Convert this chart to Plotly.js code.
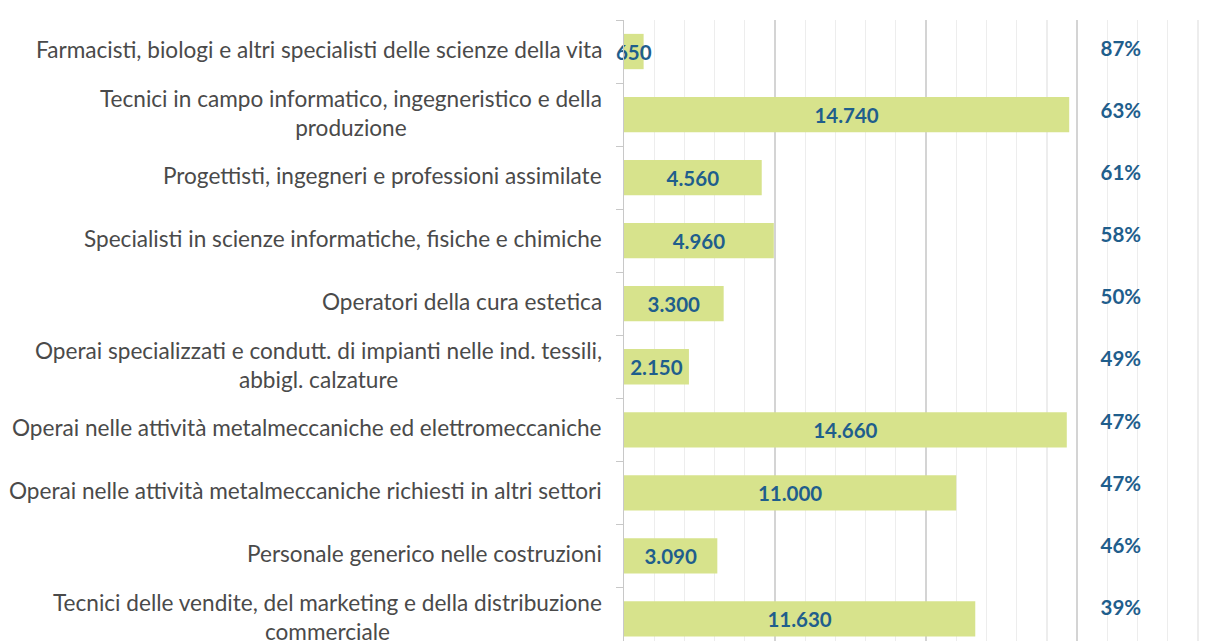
<!DOCTYPE html>
<html>
<head>
<meta charset="utf-8">
<script src="https://cdn.plot.ly/plotly-3.0.1.min.js"></script>
<style>html,body{margin:0;padding:0;background:#fff;}#chart{width:1216px;height:641px;}</style>
</head>
<body>
<div id="chart"></div>
<script>
const categories = [
  "Farmacisti, biologi e altri specialisti delle scienze della vita",
  "Tecnici in campo informatico, ingegneristico e della<br>produzione",
  "Progettisti, ingegneri e professioni assimilate",
  "Specialisti in scienze informatiche, fisiche e chimiche",
  "Operatori della cura estetica",
  "Operai specializzati e condutt. di impianti nelle ind. tessili,<br>abbigl. calzature",
  "Operai nelle attività metalmeccaniche ed elettromeccaniche",
  "Operai nelle attività metalmeccaniche richiesti in altri settori",
  "Personale generico nelle costruzioni",
  "Tecnici delle vendite, del marketing e della distribuzione<br>commerciale"
];
const entrate = [650, 14740, 4560, 4960, 3300, 2150, 14660, 11000, 3090, 11630];
const quota = [87, 63, 61, 58, 50, 49, 47, 47, 46, 39];

const blue = "#1F5E8C";
const font = "Lato, 'Open Sans', sans-serif";

const bars = {
  type: "bar",
  orientation: "h",
  y: categories,
  x: entrate,
  width: 0.56,
  marker: {color: "#D7E38C"},
  texttemplate: "%{x:,.0f}",
  textposition: "inside",
  insidetextanchor: "middle",
  textangle: 0,
  constraintext: "none",
  textfont: {family: font, size: 20.5, color: blue, weight: "bold"},
  hoverinfo: "none",
  cliponaxis: false
};

const pctLabels = {
  type: "scatter",
  mode: "text",
  y: categories,
  x: quota.map(() => 16450),
  yaxis: "y2",
  text: quota.map(v => v + "%"),
  textposition: "middle center",
  textfont: {family: font, size: 20.5, color: blue, weight: "bold"},
  hoverinfo: "none",
  cliponaxis: false
};

const annotations = categories.map(c => ({
  xref: "paper", yref: "y", x: 0, y: c,
  xanchor: "right", yanchor: "middle", xshift: -20, yshift: 2,
  text: c, showarrow: false, align: "center",
  font: {family: font, size: 22.6, color: "#4A4A4A"}
}));

const layout = {
  width: 1216, height: 641,
  margin: {l: 624, r: 0, t: 20, b: 0},
  paper_bgcolor: "#fff", plot_bgcolor: "#fff",
  showlegend: false,
  separators: ",.",
  xaxis: {
    range: [0, 19600], dtick: 5000, showticklabels: false,
    showgrid: true, gridcolor: "#D4D4D4", gridwidth: 1.3, zeroline: false,
    minor: {dtick: 1000, showgrid: true, gridcolor: "#EDEDED", gridwidth: 1.3}
  },
  yaxis: {
    type: "category", range: [9.35, -0.5],
    showticklabels: false, tickson: "boundaries", ticks: "outside", ticklen: 7,
    tickcolor: "#C8C8C8", showline: true, linecolor: "#C8C8C8", linewidth: 1.3,
    showgrid: false, zeroline: false
  },
  yaxis2: {
    type: "category", overlaying: "y", range: [9.5, -0.49],
    showticklabels: false, showgrid: false, zeroline: false, showline: false, ticks: ""
  },
  annotations: annotations
};

Plotly.newPlot("chart", [bars, pctLabels], layout, {staticPlot: true, displayModeBar: false});
</script>
</body>
</html>
